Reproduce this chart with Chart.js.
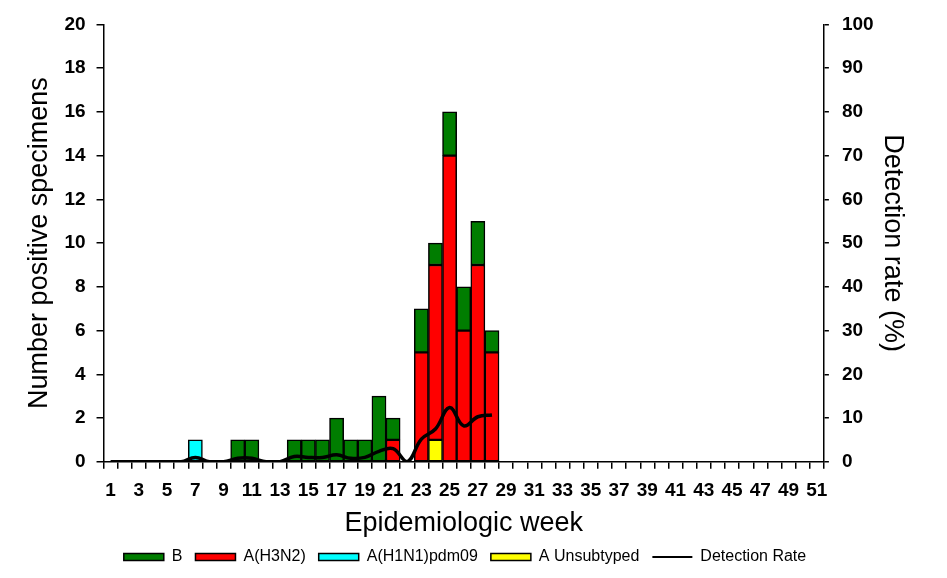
<!DOCTYPE html>
<html>
<head>
<meta charset="utf-8">
<script src="https://cdn.jsdelivr.net/npm/chart.js@4/dist/chart.umd.min.js"></script>
<style>
  html, body { margin: 0; padding: 0; background: #fff; }
  #wrap { width: 947px; height: 578px; }
</style>
</head>
<body>
<div id="wrap"><canvas id="fluChart" width="947" height="578"></canvas></div>
<script>
// weeks 1..51
const weeks = [];
for (let w = 1; w <= 51; w++) weeks.push(w);

// counts per week (weeks 1..28, rest empty)
const fluB =       [0,0,0,0,0,0,0,0,0,1, 1,0,0,1,1,1,2,1,1,3, 1,0,2,1,2,2,2,1];
const fluH3N2 =    [0,0,0,0,0,0,0,0,0,0, 0,0,0,0,0,0,0,0,0,0, 1,0,5,8,14,6,9,5];
const fluH1N1 =    [0,0,0,0,0,0,1,0,0,0, 0,0,0,0,0,0,0,0,0,0, 0,0,0,0,0,0,0,0];
const fluUnsub =   [0,0,0,0,0,0,0,0,0,0, 0,0,0,0,0,0,0,0,0,0, 0,0,0,1,0,0,0,0];
const detectRate = [0,0,0,0,0,0,1,0,0,0.8, 0.8,0,0,1.2,1,1,1.6,0.8,1,2.4, 3,0,5.2,7.5,12.4,8.2,10.3,10.7];

const yTicks = [0,2,4,6,8,10,12,14,16,18,20];
const y2Ticks = [0,10,20,30,40,50,60,70,80,90,100];

const legendOrder = ['B', 'A(H3N2)', 'A(H1N1)pdm09', 'A Unsubtyped', 'Detection Rate'];

const font = 'Arial, "Liberation Sans", sans-serif';

function pad(arr) {
    const out = arr.slice();
    while (out.length < weeks.length) out.push(0);
    return out;
}

function barSet(label, values, color) {
    return {
        type: 'bar',
        label: label,
        data: pad(values),
        backgroundColor: color,
        borderColor: '#000',
        borderWidth: 1.5,
        borderSkipped: false,
        categoryPercentage: 1,
        barPercentage: 1,
        yAxisID: 'y',
        pointStyle: 'rect',
        order: 1
    };
}

const lineData = detectRate.slice();
while (lineData.length < weeks.length) lineData.push(null);

const ctx = document.getElementById('fluChart').getContext('2d');
new Chart(ctx, {
    data: {
        labels: weeks,
        datasets: [
            barSet('A Unsubtyped', fluUnsub, '#ffff00'),
            barSet('A(H1N1)pdm09', fluH1N1, '#00ffff'),
            barSet('A(H3N2)', fluH3N2, '#ff0000'),
            barSet('B', fluB, '#007d00'),
            {
                type: 'line',
                label: 'Detection Rate',
                data: lineData,
                borderColor: '#000',
                borderWidth: 3.5,
                pointRadius: 0,
                tension: 0.4,
                fill: false,
                yAxisID: 'y2',
                pointStyle: 'line',
                order: 0
            }
        ]
    },
    options: {
        responsive: false,
        animation: false,
        devicePixelRatio: 1,
        layout: { padding: { left: 21, right: 38, top: 9, bottom: 3 } },
        plugins: {
            tooltip: { enabled: false },
            legend: {
                position: 'bottom',
                labels: {
                    usePointStyle: true,
                    pointStyleWidth: 40,
                    boxHeight: 7,
                    padding: 13,
                    color: '#000',
                    font: { family: font, size: 16 },
                    generateLabels: function (chart) {
                        const items = Chart.defaults.plugins.legend.labels.generateLabels(chart);
                        items.forEach(it => { if (it.text === 'Detection Rate') it.lineWidth = 2; });
                        items.sort((a, b) => legendOrder.indexOf(a.text) - legendOrder.indexOf(b.text));
                        return items;
                    }
                }
            }
        },
        scales: {
            x: {
                stacked: true,
                offset: true,
                grid: { drawOnChartArea: false, drawTicks: true, tickLength: 7, color: '#000', lineWidth: 1.5, offset: true },
                border: { display: true, color: '#000', width: 1.5 },
                ticks: {
                    autoSkip: false,
                    maxRotation: 0,
                    color: '#000',
                    padding: 11,
                    font: { family: font, size: 19, weight: 'bold' },
                    callback: function (v, i) { return weeks[i] % 2 === 1 ? String(weeks[i]) : ''; }
                },
                title: {
                    display: true,
                    text: 'Epidemiologic week',
                    color: '#000',
                    font: { family: font, size: 27 },
                    padding: { top: -6, bottom: -4 }
                }
            },
            y: {
                stacked: true,
                position: 'left',
                min: 0,
                max: 20,
                afterBuildTicks: axis => { axis.ticks = yTicks.map(v => ({ value: v })); },
                grid: { drawOnChartArea: false, drawTicks: true, tickLength: 7, color: '#000', lineWidth: 1.5 },
                border: { display: true, color: '#000', width: 1.5 },
                ticks: { color: '#000', padding: 11, font: { family: font, size: 19, weight: 'bold' } },
                title: {
                    display: true,
                    text: 'Number positive specimens',
                    color: '#000',
                    font: { family: font, size: 27 },
                    padding: { top: 2, bottom: -2 }
                }
            },
            y2: {
                position: 'right',
                min: 0,
                max: 100,
                afterBuildTicks: axis => { axis.ticks = y2Ticks.map(v => ({ value: v })); },
                grid: { drawOnChartArea: false, drawTicks: true, tickLength: 5, color: '#000', lineWidth: 1.5 },
                border: { display: true, color: '#000', width: 1.5 },
                ticks: { color: '#000', padding: 13, font: { family: font, size: 19, weight: 'bold' } },
                title: {
                    display: true,
                    text: 'Detection rate (%)',
                    color: '#000',
                    font: { family: font, size: 27 },
                    padding: { top: 0, bottom: -10 }
                }
            }
        }
    }
});
</script>
</body>
</html>
